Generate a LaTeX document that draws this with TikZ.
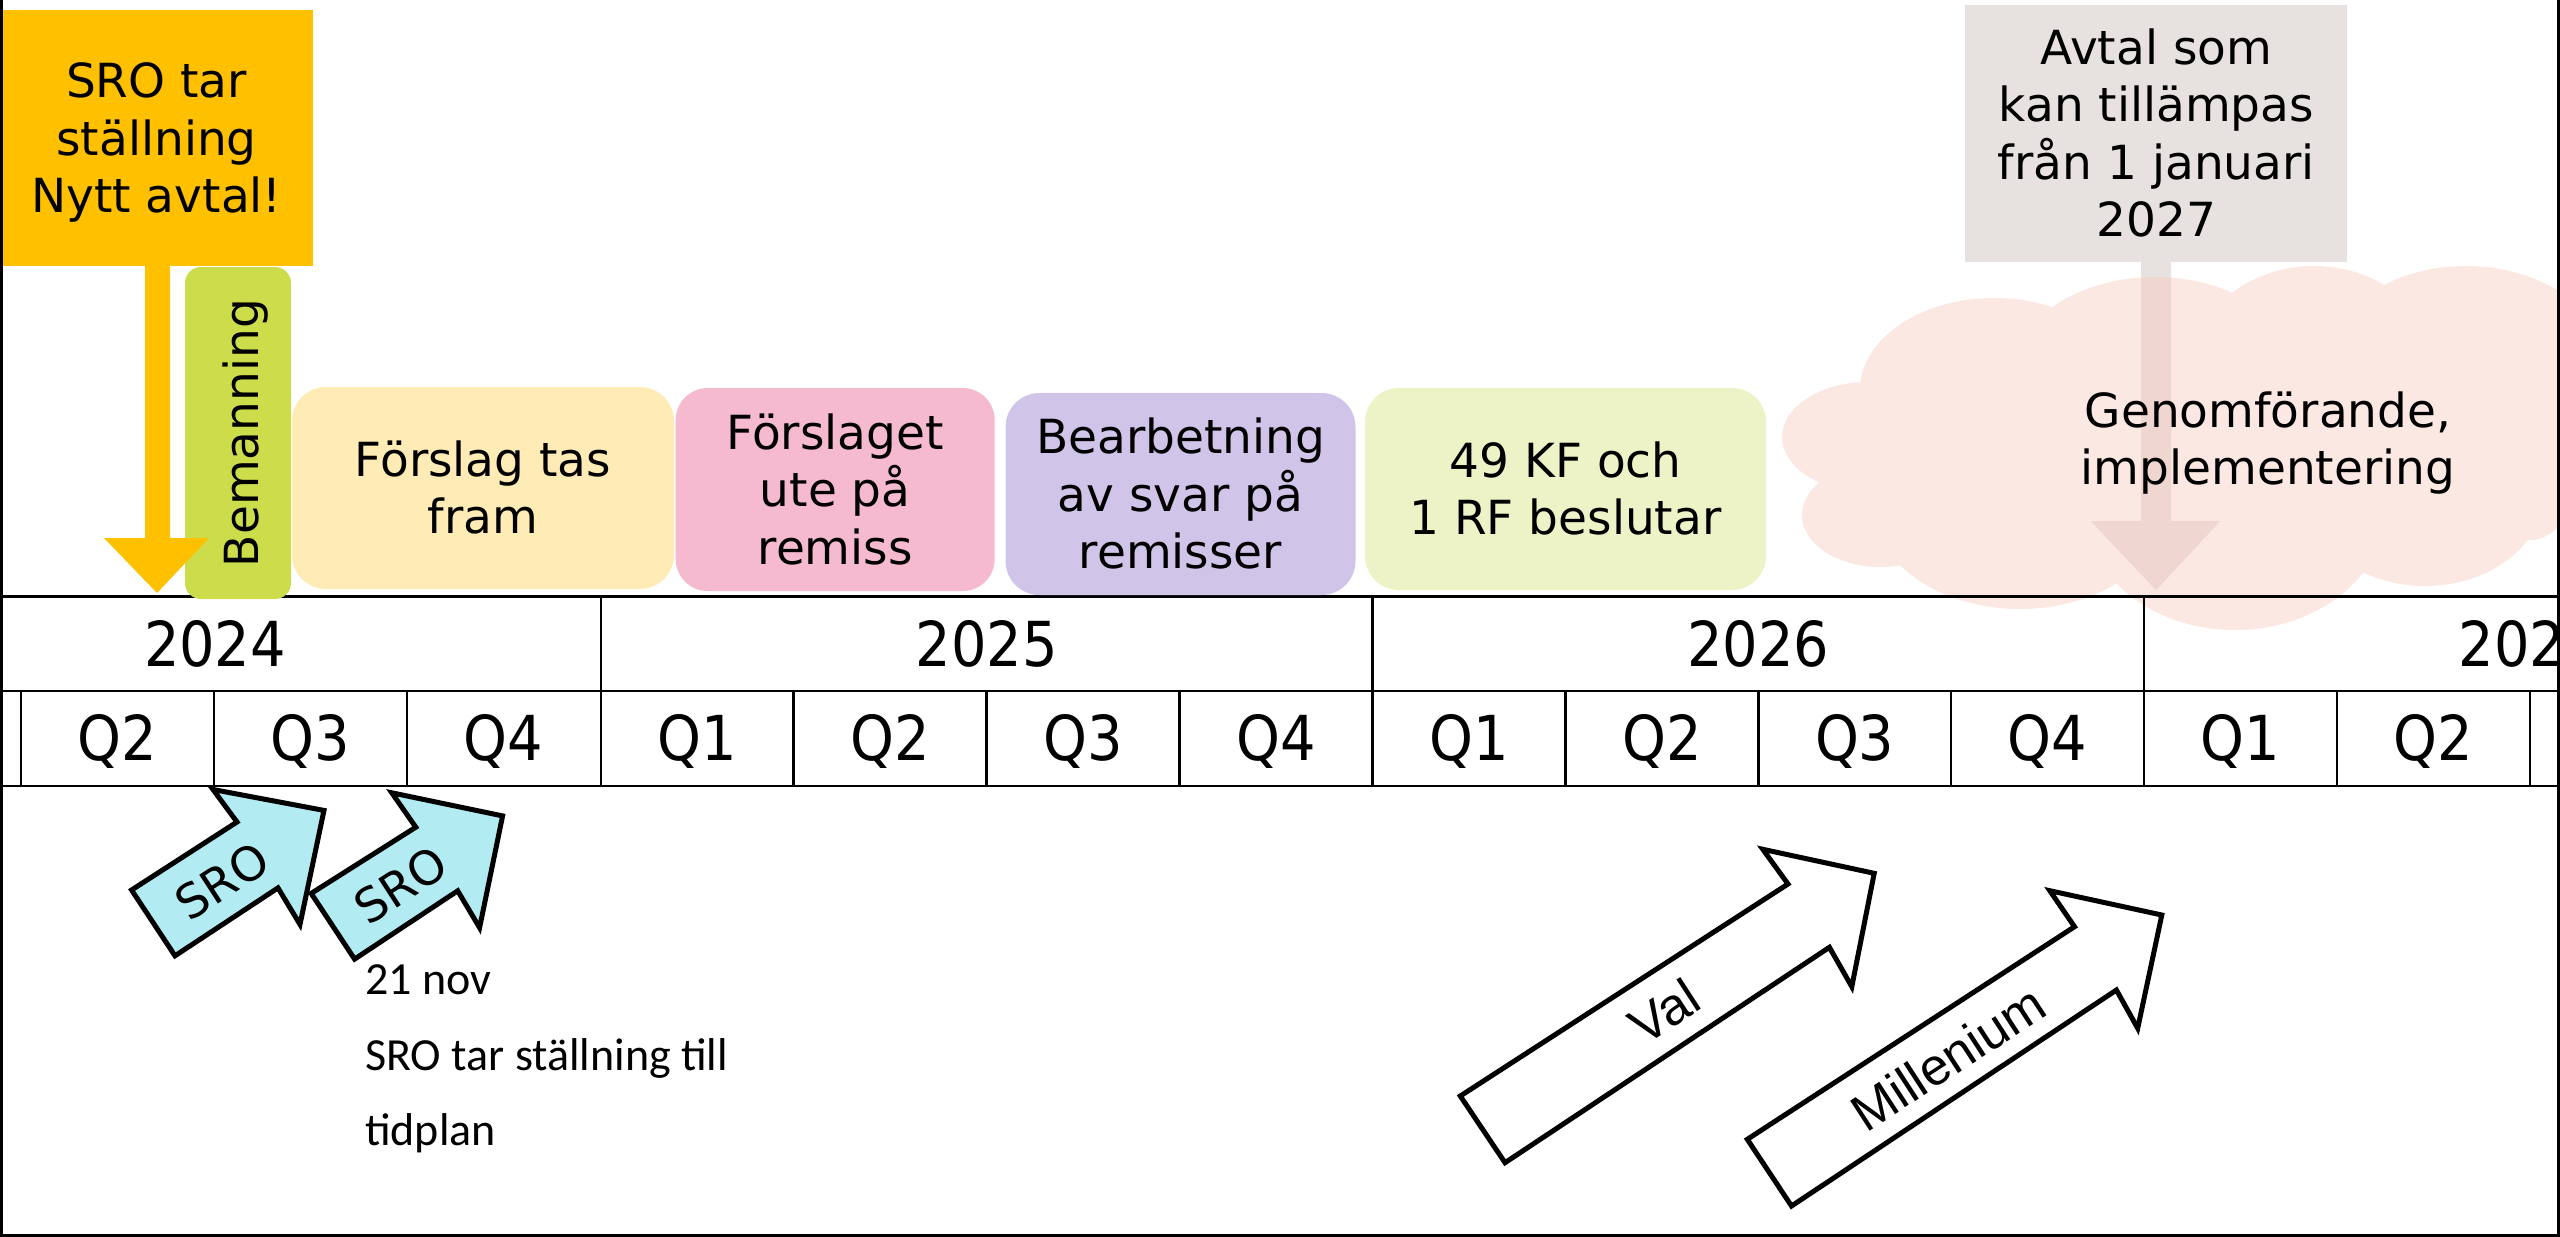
\documentclass[tikz,border=0pt]{standalone}
\usepackage{fontspec}
\setmainfont{DejaVu Sans}
\newfontfamily\condfont{DejaVu Sans Condensed}
\newfontfamily\calfont{Carlito}
\newfontfamily\arialfont{Liberation Sans}
\definecolor{cOrange}{HTML}{FFC000}
\definecolor{cLime}{HTML}{CDDC4B}
\definecolor{cCream}{HTML}{FFEBB5}
\definecolor{cPink}{HTML}{F5BACF}
\definecolor{cLav}{HTML}{D1C4E9}
\definecolor{cPale}{HTML}{EDF3C6}
\definecolor{cGray}{HTML}{E7E2E0}
\definecolor{cCloud}{HTML}{FCE8E3}
\definecolor{cBlend}{HTML}{EFD6D0}
\definecolor{cCyan}{HTML}{B2EBF2}
\newcommand\hs{\rule{0pt}{45.9pt}}
\newcommand\ds{\rule[-11.6pt]{0pt}{11.6pt}}
\newcommand\cloudpath{(1868,437) ellipse (86 and 55) (1994,390) ellipse (134 and 92)
  (2155,387) ellipse (150 and 110) (2314,366) ellipse (120 and 100)
  (2466,366) ellipse (140 and 100) (2530,430) ellipse (60 and 110)
  (2425,495) ellipse (118 and 91) (2235,510) ellipse (150 and 120)
  (2020,500) ellipse (150 and 109) (1880,515) ellipse (78 and 52)
  (2170,450) ellipse (330 and 130)}
\begin{document}
\begin{tikzpicture}[x=1pt,y=-1pt,
  box/.style={inner sep=0pt, outer sep=0pt, align=center, font=\fontsize{47}{57.5}\selectfont},
  txt/.style={inner sep=0pt, outer sep=0pt, align=center, font=\fontsize{47}{57.5}\selectfont},
  tl/.style={line width=2.6pt, black},
  ylab/.style={inner sep=0pt, anchor=base, font=\condfont\fontsize{62}{70}\selectfont},
  blockarrow/.style={draw=black, line width=5pt, line join=miter, miter limit=10},
  arrlab/.style={inner sep=0pt, font=\fontsize{47}{57}\selectfont, rotate=33},
  arrlabb/.style={inner sep=0pt, font=\arialfont\fontsize{52}{60}\selectfont, rotate=33}]
\useasboundingbox (0,0) rectangle (2560,1237);

% cloud and grey arrow
\begin{scope}
  \clip (0,0) rectangle (2558,1237);
  \fill[cCloud] \cloudpath;
\end{scope}
\fill[cGray] (2141,262) -- (2171,262) -- (2171,521) -- (2220,521) -- (2156,590) -- (2091,521) -- (2141,521) -- cycle;
\begin{scope}
  \clip \cloudpath;
  \fill[cBlend] (2141,262) -- (2171,262) -- (2171,521) -- (2220,521) -- (2156,590) -- (2091,521) -- (2141,521) -- cycle;
\end{scope}

% timeline
\begin{scope}
  \clip (0,0) rectangle (2558,1237);
  \draw[tl] (-10,596.5) -- (2570,596.5);
  \draw[tl] (-10,691) -- (2570,691);
  \draw[tl] (-10,786) -- (2570,786);
  \foreach \xx in {600.8,1372.4,2144} \draw[tl] (\xx,596.5) -- (\xx,786);
  \foreach \xx in {21.1,214,406.9,793.7,986.6,1179.5,1565.3,1758.2,1951.1,2336.9,2529.8}
    \draw[tl] (\xx,691) -- (\xx,786);
  \node[ylab] (y2024) at (215,666.7) {2024};
  \node[ylab] (y2025) at (986.6,666.7) {2025};
  \node[ylab] (y2026) at (1758.2,666.7) {2026};
  \node[ylab] (y2027) at (2529.8,666.7) {2027};
  \foreach \lab/\xx [count=\i] in {Q2/117.6,Q3/310.5,Q4/503.4,Q1/697.2,Q2/890.2,Q3/1083,Q4/1276,Q1/1468.9,Q2/1661.8,Q3/1854.7,Q4/2047.5,Q1/2240.5,Q2/2433.4}
    \node[ylab] (q\i) at (\xx,760.7) {\lab};
\end{scope}

% boxes
\node[box, fill=cOrange, minimum width=313pt, minimum height=256pt] (sro) at (156.5,138) {\hs SRO tar\\ställning\\Nytt avtal!\ds};
\node[box, fill=cLime, rounded corners=16pt, minimum width=106pt, minimum height=332pt] (beman) at (238,433) {};
\node[inner sep=0pt, anchor=base, rotate=90, font=\fontsize{47}{57}\selectfont] (bemantext) at (258,433) {Bemanning};
\node[box, fill=cCream, rounded corners=34pt, minimum width=382pt, minimum height=202pt] (forslag) at (483,488) {\hs Förslag tas\\fram\ds};
\node[box, fill=cPink, rounded corners=32pt, minimum width=319pt, minimum height=203pt] (remiss) at (835.2,489.5) {\hs Förslaget\\ute på\\remiss\ds};
\node[box, fill=cLav, rounded corners=34pt, minimum width=350pt, minimum height=202pt] (bearb) at (1180.5,494) {\hs Bearbetning\\av svar på\\remisser\ds};
\node[box, fill=cPale, rounded corners=34pt, minimum width=401pt, minimum height=202pt] (beslut) at (1565.5,489) {\hs 49 KF och\\1 RF beslutar\ds};
\node[box, fill=cGray, minimum width=382pt, minimum height=257pt] (avtal) at (2156.4,133.4) {\hs Avtal som\\kan tillämpas\\från 1 januari\\2027\ds};

% yellow arrow
\fill[cOrange] (145,266) -- (170,266) -- (170,538) -- (209,538) -- (157,593) -- (104,538) -- (145,538) -- cycle;

% SRO arrows
\filldraw[blockarrow, fill=cCyan] (131.6,890) -- (237,822) -- (213,789.5) -- (324,810.4) -- (300,924.4) -- (278,887.9) -- (175,955.8) -- cycle;
\node[arrlab] (sro1) at (222,881) {SRO};
\filldraw[blockarrow, fill=cCyan] (311.2,893.4) -- (415.8,827.2) -- (391.8,792.8) -- (502.6,815.9) -- (479.6,927.7) -- (457.7,890.8) -- (354.6,959.1) -- cycle;
\node[arrlab] (sro2) at (400.5,885.5) {SRO};

% Val and Millenium arrows
\filldraw[blockarrow, fill=white] (1460.3,1096) -- (1788,884) -- (1762.8,849.3) -- (1874.2,873.3) -- (1851.8,986.7) -- (1829.4,947.3) -- (1505,1162.7) -- cycle;
\node[arrlabb] (val) at (1664,1011) {Val};
\filldraw[blockarrow, fill=white] (1747.3,1139.3) -- (2074.5,926.7) -- (2049.8,890.7) -- (2161.8,915) -- (2137.7,1028.3) -- (2116.4,990) -- (1791.5,1206) -- cycle;
\node[arrlabb] (mill) at (1948,1058) {Millenium};

% cloud text
\node[txt] (genom) at (2268,438.7) {\hs Genomförande,\\implementering\ds};

% note
\node[inner sep=0pt, anchor=north west, align=left, font=\calfont\fontsize{46}{75.5}\selectfont] (note) at (365,954.7) {\rule{0pt}{40pt}21 nov\\SRO tar ställning till\\tidplan};

% frame
\draw[line width=3pt] (1.5,0) -- (1.5,1235) -- (2558,1235) -- (2558,0);
\end{tikzpicture}
\end{document}
